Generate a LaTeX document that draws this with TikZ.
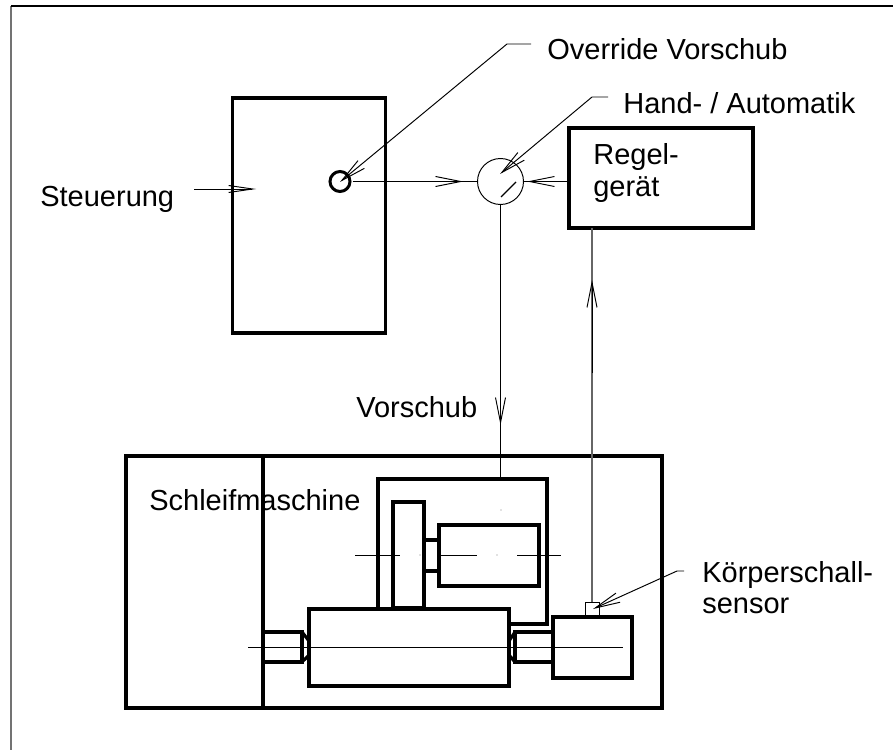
\documentclass[tikz,border=0pt]{standalone}
\usepackage{fontspec}
\setmainfont{Liberation Sans}
\usetikzlibrary{arrows.meta, positioning, calc}

\begin{document}
\begin{tikzpicture}[
  x=0.02cm, y=-0.02cm,
  block/.style={rectangle, draw=black, line width=1.8pt, outer sep=0pt, inner sep=0pt},
  part/.style={rectangle, draw=black, line width=1.8pt, outer sep=0pt, inner sep=0pt},
  label/.style={anchor=base west, inner sep=0pt, font=\fontsize{16.5pt}{20pt}\selectfont},
  wire/.style={line width=0.55pt, color=black},
  body/.style={line width=1.8pt, color=black},
  arr/.style={-{Straight Barb[length=0.5cm, width=0.2cm]}, line width=0.55pt},
  arrslim/.style={-{Straight Barb[length=0.48cm, width=0.14cm]}, line width=0.55pt},
]
  \useasboundingbox (0,0) rectangle (893,750);

  % Frame
  \draw[line width=0.9pt, color=black!55] (11,750) -- (11,6);
  \draw[wire, line width=0.7pt] (11,6) -- (893,6);

  % Upper blocks
  \node[block, minimum width=3.06cm, minimum height=4.7cm] (ctrl) at (309,215.5) {};
  \node[block, minimum width=3.68cm, minimum height=2.0cm] (reg)  at (661,178)   {};
  \node[circle, draw=black, line width=1.7pt, minimum size=0.4cm, inner sep=0pt, outer sep=1.5pt] (knob) at (340,181.5) {};
  \node[circle, draw=black, line width=0.55pt, minimum size=0.92cm, inner sep=0pt, outer sep=0pt] (mixer) at (500.5,181.5) {};

  % Labels
  \node[label] (ovr)  at (547,60)  {Override Vorschub};
  \node[label] (hand) at (623,113) {Hand- / Automatik};
  \node[label] (rega) at (593,165) {Regel-};
  \node[label] (regb) at (593,196) {gerät};
  \node[label] (stg)  at (40,206)  {Steuerung};
  \node[label] (vor)  at (356,417) {Vorschub};
  \node[label] (sm)   at (149,510) {Schleifmaschine};
  \node[label] (ksa)  at (702,582) {Körperschall-};
  \node[label] (ksb)  at (702,613) {sensor};

  % Machine frame
  \node[block, minimum width=10.72cm, minimum height=5.04cm] (machine) at (394,582) {};
  \coordinate (split) at (263,582);
  \draw[line width=1.8pt] (machine.north -| split) -- (machine.south -| split);

  % Grinding head
  \node[part, minimum width=4.0cm,  minimum height=1.54cm] (table) at (409,647.5) {};
  \node[part, minimum width=0.62cm, minimum height=2.12cm] (wheel) at (408.5,555) {};
  \node[part, minimum width=2.0cm,  minimum height=1.22cm] (motor) at (489,555.5) {};
  \node[block, minimum width=1.58cm, minimum height=1.22cm] (head) at (592.5,647.5) {};
  \node[rectangle, draw=black, line width=0.55pt, minimum width=0.28cm, minimum height=0.3cm, inner sep=0pt, outer sep=0pt] (sens) at (592,609.5) {};
  \draw[body] (378,609) -- (378,479) -- (547,479) -- (547,624) -- (509,624);
  \coordinate (htop) at (500.5,479);

  % Shaft
  \draw[body] (wheel.east |- 0,540) -- (motor.west |- 0,540);
  \draw[body] (wheel.east |- 0,571) -- (motor.west |- 0,571);

  % Left centre
  \draw[body] (split |- 0,632) -- (302,632) -- (302,662) -- (split |- 0,662);
  \draw[body] (302,632) -- (table.west |- 0,641);
  \draw[body] (302,662) -- (table.west |- 0,655);

  % Right centre
  \draw[body] (head.west |- 0,632) -- (515,632) -- (515,662) -- (head.west |- 0,662);
  \draw[body] (515,632) -- (table.east |- 0,641);
  \draw[body] (515,662) -- (table.east |- 0,655);

  % Centre lines
  \draw[wire] (248,647) -- (623,647);
  \draw[wire] (355,555) -- (400,555);
  \draw[wire] (441,555) -- (477,555);
  \draw[wire] (517,555) -- (561,555);
  \fill[black!50] (420,555) circle (0.6) (497,555) circle (0.6) (501,510) circle (0.6);

  % Slash in switch
  \draw[wire, line width=0.7pt] (501,197) -- (516,182);

  % Connectors
  \draw[wire] (knob.east) -- (mixer.west);
  \draw[wire] (reg.west |- mixer) -- (mixer.east);
  \draw[wire] (mixer.south) -- (htop);
  \draw[wire, color=black!60, line width=0.7pt] (sens.north |- reg.south) -- (sens.north);

  % Flow arrows
  \coordinate (a1s) at (424,181.5);  \coordinate (a1e) at (463,181.5);
  \coordinate (a2s) at (569,181.5);  \coordinate (a2e) at (527,181.5);
  \coordinate (a3s) at (500.5,335);  \coordinate (a3e) at (500.5,425);
  \coordinate (a4s) at (592,373);    \coordinate (a4e) at (592,280);
  \coordinate (a5s) at (194,189);    \coordinate (a5e) at (256,189);
  \draw[arr] (a1s) -- (a1e);
  \draw[arr] (a2s) -- (a2e);
  \draw[arr] (a3s) -- (a3e);
  \draw[arr] (a4s) -- (a4e);
  \draw[arrslim] (a5s) -- (a5e);

  % Leaders
  \coordinate (l1a) at (531,44);  \coordinate (l1b) at (507,44);  \coordinate (l1c) at (340,182);
  \coordinate (l2a) at (608,97);  \coordinate (l2b) at (592,97);  \coordinate (l2c) at (500,174);
  \coordinate (l3a) at (684,571); \coordinate (l3b) at (677,571); \coordinate (l3c) at (593,609);
  \draw[arr] (l1a) -- (l1b) -- (l1c);
  \draw[arr] (l2a) -- (l2b) -- (l2c);
  \draw[arr] (l3a) -- (l3b) -- (l3c);

\end{tikzpicture}
\end{document}
